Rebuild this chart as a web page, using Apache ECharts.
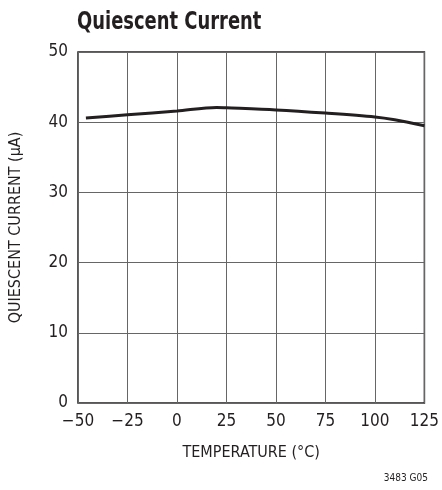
<!DOCTYPE html>
<html><head><meta charset="utf-8">
<script src="https://cdn.jsdelivr.net/npm/echarts@6/dist/echarts.min.js"></script>
<style>html,body{margin:0;padding:0;background:#fff}#c{width:442px;height:490px}</style>
</head><body><div id="c"></div>
<script>
const temps = [-46, -25, 0, 20, 25, 50, 75, 100, 110, 125];
const current = [40.6, 41.05, 41.6, 42.1, 42.05, 41.75, 41.3, 40.75, 40.35, 39.5];
const FONT = '"Liberation Sans Narrow", "DejaVu Sans Condensed", Roboto, sans-serif';
const chart = echarts.init(document.getElementById('c'), null, {renderer: 'canvas'});
chart.setOption({
  animation: false,
  backgroundColor: '#fff',
  graphic: [
    {type: 'text', left: 77, top: 11, scaleX: 0.83, originX: 0,
     style: {text: 'Quiescent Current', fontFamily: FONT, fontWeight: 'bold', fontSize: 24, fill: '#231f20'}}
  ],
  title: [
    {text: '3483 G05', right: 14, top: 473, padding: 0, textStyle: {fontFamily: FONT, fontWeight: 'normal', fontSize: 10, color: '#231f20'}}
  ],
  grid: {left: 77, top: 52, width: 352, height: 351, show: true, borderColor: '#231f20', borderWidth: 1.5},
  xAxis: {
    type: 'value', min: -50, max: 125, interval: 25,
    name: 'TEMPERATURE (°C)', nameLocation: 'middle', nameGap: 42,
    nameTextStyle: {fontFamily: FONT, fontSize: 16, color: '#231f20'},
    axisLine: {show: false}, axisTick: {show: false},
    axisLabel: {fontFamily: FONT, fontSize: 17, color: '#231f20', margin: 10,
      formatter: v => String(v).replace('-', '\u2212')},
    splitLine: {show: true, lineStyle: {color: '#666', width: 1}}
  },
  yAxis: {
    type: 'value', min: 0, max: 50, interval: 10,
    name: 'QUIESCENT CURRENT (\u00b5A)', nameLocation: 'middle', nameGap: 54,
    nameTextStyle: {fontFamily: FONT, fontSize: 16, color: '#231f20'},
    axisLine: {show: false}, axisTick: {show: false},
    axisLabel: {fontFamily: FONT, fontSize: 17, color: '#231f20', margin: 10},
    splitLine: {show: true, lineStyle: {color: '#666', width: 1}}
  },
  series: [{
    type: 'line', smooth: 0.3, symbol: 'none',
    data: temps.map((t, i) => [t, current[i]]),
    lineStyle: {color: '#231f20', width: 3}
  }]
});
</script></body></html>
